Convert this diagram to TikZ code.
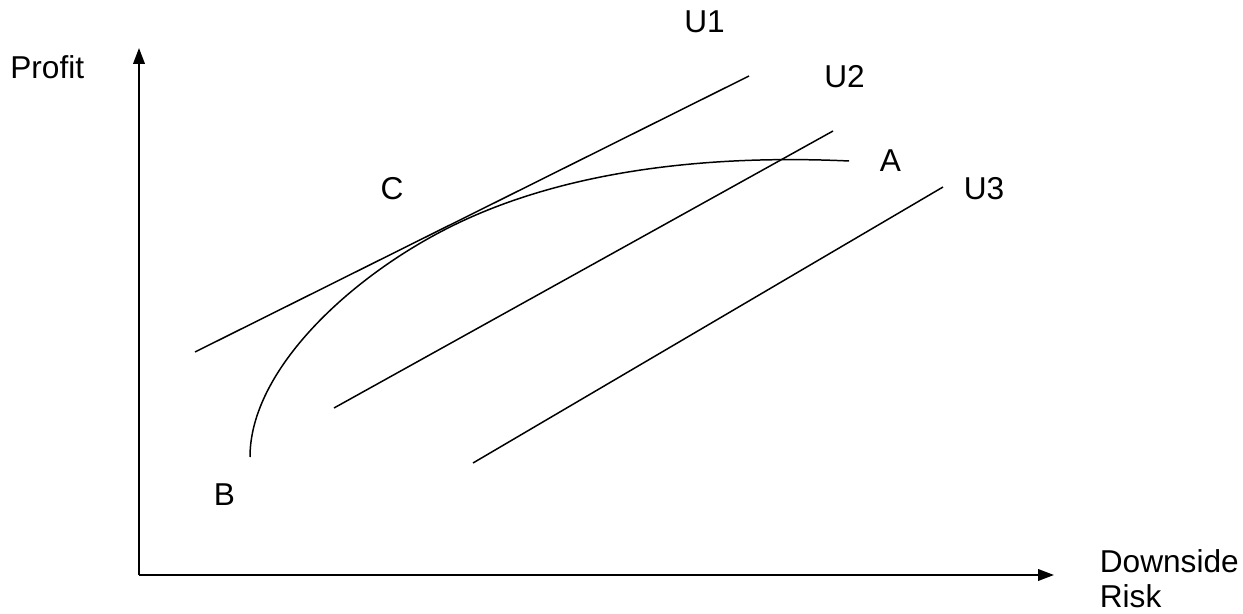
\documentclass[tikz,border=0pt]{standalone}
\usepackage{fontspec}
\setmainfont{Liberation Sans}
\usetikzlibrary{arrows.meta}
\begin{document}
\begin{tikzpicture}[x=0.02cm,y=-0.02cm,
  lbl/.style={inner sep=0pt, font=\fontsize{18}{22.7}\selectfont},
  axisline/.style={line width=1.15pt, -{Triangle[length=9pt,width=6.5pt]}},
  thinline/.style={line width=0.85pt}]
\useasboundingbox (0,0) rectangle (1243,614);
% axes
\coordinate (O) at (139,575);
\coordinate (ytop) at (139,48);
\coordinate (xend) at (1054,575);
\draw[axisline] (O) -- (ytop);
\draw[axisline] (O) -- (xend);
% axis labels
\node[lbl, anchor=base west] (profit) at (10,79) {Profit};
\node[lbl, font=\fontsize{18}{19.8}\selectfont, anchor=north west, align=left] (xlabel) at (1099.5,549) {Downside\\Risk};
% indifference lines
\coordinate (u1s) at (195,352); \coordinate (u1e) at (749,76);
\coordinate (u2s) at (334,408); \coordinate (u2e) at (833,131);
\coordinate (u3s) at (473,463); \coordinate (u3e) at (943,187);
\draw[thinline] (u1s) -- (u1e);
\draw[thinline] (u2s) -- (u2e);
\draw[thinline] (u3s) -- (u3e);
% frontier curve
\coordinate (Bpt) at (250,457);
\coordinate (Cpt) at (450,227);
\coordinate (Apt) at (849,161);
\draw[thinline] (Bpt) .. controls (250,370) and (350,277) .. (Cpt)
  .. controls (570,167) and (720,155) .. (Apt);
% labels
\node[lbl, anchor=base] (u1) at (704.5,33) {U1};
\node[lbl, anchor=base] (u2) at (844.5,88) {U2};
\node[lbl, anchor=base] (u3) at (984,200) {U3};
\node[lbl, anchor=base] (a) at (890.5,172) {A};
\node[lbl, anchor=base] (b) at (224.5,505) {B};
\node[lbl, anchor=base] (c) at (392,200) {C};
\end{tikzpicture}
\end{document}
